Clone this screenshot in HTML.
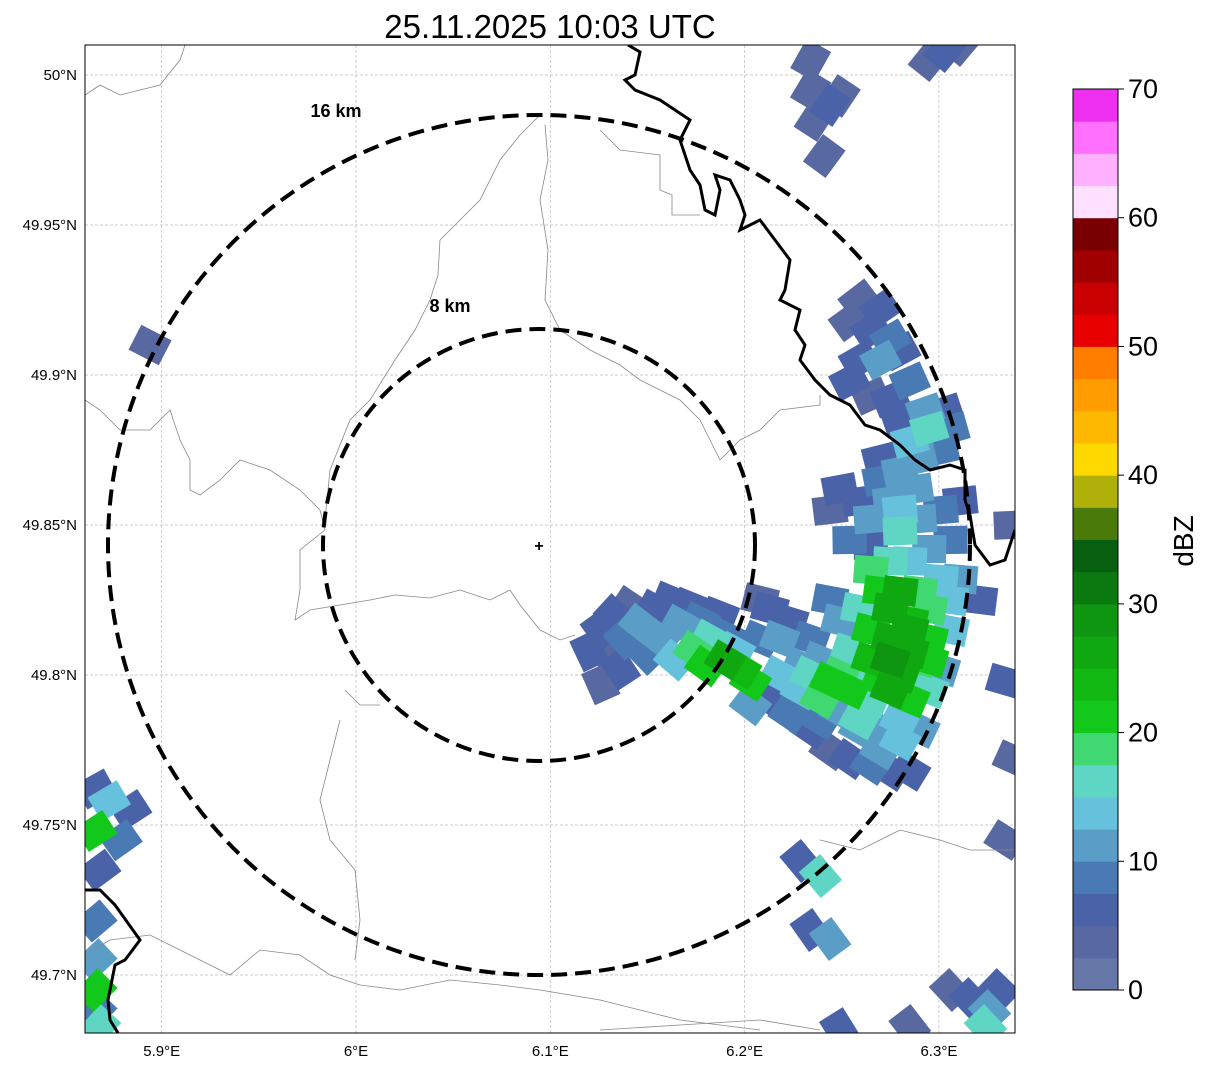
<!DOCTYPE html>
<html><head><meta charset="utf-8"><style>
body{margin:0;background:#fff;width:1207px;height:1069px;overflow:hidden;font-family:"Liberation Sans","DejaVu Sans",sans-serif}
</style></head><body>
<svg id="chart" width="1207" height="1069" xmlns="http://www.w3.org/2000/svg">
<defs><clipPath id="mapclip"><rect x="85" y="45" width="930" height="988"/></clipPath></defs>
<text x="550" y="38" font-size="33" text-anchor="middle" fill="#000">25.11.2025 10:03 UTC</text>
<g id="grid"></g>
<g clip-path="url(#mapclip)">
<g id="cells"></g>
<g fill="none" stroke="#888" stroke-width="0.8">
<path d="M85,95 L100,85 L120,95 L160,85 L180,60 L185,45"/>
<path d="M540,115 L520,135 L500,160 L480,200 L455,225 L440,240 L438,275 L430,300 L415,330 L395,360 L370,400 L350,420 L330,470 L325,520"/>
<path d="M85,400 L100,410 L120,430 L150,430 L170,410 L180,440 L190,460 L190,490 L200,495 L220,480 L240,460 L270,470 L300,490 L320,510 L325,530 L300,550 L300,590 L295,620 L310,610 L340,605 L370,600 L395,595 L430,598 L460,590 L490,600 L510,590 L520,605 L540,630 L560,640 L575,635"/>
<path d="M545,125 L548,160 L540,200 L548,250 L545,300 L560,330 L590,350 L620,365 L640,380 L680,400 L700,420 L720,460 L740,440 L760,430 L780,410 L820,405 L820,395"/>
<path d="M600,130 L620,150 L660,155 L660,190 L672,195 L672,215 L700,215"/>
<path d="M85,955 L110,940 L150,935 L180,950 L200,960 L230,975 L260,950 L300,955 L330,975 L360,985 L400,990 L450,980 L500,985 L540,990 L600,1000 L640,1010 L680,1020 L720,1025 L760,1030"/>
<path d="M340,720 L330,760 L320,800 L330,840 L355,870 L360,920 L355,960"/>
<path d="M345,690 L360,705 L380,705"/>
<path d="M820,840 L860,850 L900,830 L940,840 L970,850 L1015,850"/>
<path d="M600,1030 L680,1025 L760,1020 L820,1030"/>
</g>
<g fill="none" stroke="#000" stroke-width="3">
<path d="M628,45 L640,52 L635,75 L625,80 L635,90 L660,100 L690,120 L680,140 L690,170 L700,185 L705,210 L715,215 L720,190 L715,175 L730,180 L740,200 L745,215 L740,230 L760,220 L775,240 L790,260 L785,290 L780,300 L800,310 L795,330 L805,345 L800,360 L815,380 L830,395 L850,405 L865,425 L880,430 L900,445 L915,460 L930,470 L950,465 L965,470 L965,500 L970,515 L975,545 L990,565 L1005,560 L1015,530"/>
<path d="M85,890 L100,890 L115,905 L140,940 L125,960 L115,965 L108,1000 L110,1020 L118,1033"/>
</g>
<g fill="none" stroke="#000" stroke-width="4" stroke-dasharray="16,8">
<ellipse cx="539" cy="545" rx="216" ry="216"/>
<ellipse cx="539" cy="545" rx="431" ry="430"/>
</g>
<text x="336" y="117" font-size="18" font-weight="bold" text-anchor="middle">16 km</text>
<text x="450" y="312" font-size="18" font-weight="bold" text-anchor="middle">8 km</text>
<text x="539" y="551" font-size="16" font-weight="bold" text-anchor="middle">+</text>
</g>
<rect x="85" y="45" width="930" height="988" fill="none" stroke="#000" stroke-width="1"/>
<g id="ticks"></g>
<g id="cbar"></g>
<text transform="translate(1193,541) rotate(-90)" font-size="28" text-anchor="middle">dBZ</text>
</svg>
<script>
const NS="http://www.w3.org/2000/svg";
const lonTicks=[5.9,6.0,6.1,6.2,6.3];
const lonLabels=["5.9°E","6°E","6.1°E","6.2°E","6.3°E"];
const latTicks=[50.0,49.95,49.9,49.85,49.8,49.75,49.7];
const latLabels=["50°N","49.95°N","49.9°N","49.85°N","49.8°N","49.75°N","49.7°N"];
const cbarTicks=[0,10,20,30,40,50,60,70];
const cbarColors=["#6677a8","#5868a0","#4a62a8","#4a7ab3","#5a9ec8","#66c2dc","#5fd6c4","#40d870","#12c81a","#12b812","#10a810","#0e9610","#0a7a10","#066010","#4a7a0a","#b0b00a","#ffd800","#ffb800","#ff9c00","#ff7e00","#e80000","#c80000","#a00000","#780000","#ffe0ff","#ffb0ff","#ff70ff","#f030f0"];
const cellLon=[6.120,6.126,6.133,6.141,6.131,6.138,6.146,6.154,6.162,6.172,6.126,6.136,6.149,6.156,6.167,6.177,6.187,6.164,6.174,6.182,6.190,6.180,6.190,6.198,6.203,6.195,6.208,6.213,6.218,
6.213,6.223,6.234,6.244,6.254,6.265,6.275,6.285,6.229,6.239,6.249,6.259,6.270,6.280,6.290,6.244,6.254,6.265,6.275,6.285,6.295,6.301,6.254,6.265,6.275,6.285,6.295,6.306,6.265,6.275,6.285,6.295,6.306,6.270,6.280,6.290,6.301,6.311,6.265,6.275,6.285,6.295,6.306,6.321,6.239,6.234,6.223,6.208,6.259,6.249,6.244,
6.254,6.265,6.275,6.259,6.249,6.244,6.270,6.280,6.290,6.301,6.285,6.295,6.306,6.293,6.303,6.280,6.270,6.265,6.280,6.290,6.301,6.311,6.288,6.280,
6.259,6.270,6.265,6.275,6.254,6.270,6.280,6.259,6.254,6.265,6.275,6.285,
6.234,6.244,6.236,6.249,6.241,6.234,6.295,6.303,6.311,
5.894,5.866,5.873,5.884,5.866,5.879,5.868,5.866,5.866,5.866,5.866,5.868,
6.229,6.239,6.234,6.244,6.306,6.316,6.326,6.324,6.331,6.249,6.285,6.334,6.334,6.338,6.337,
6.234,6.249,6.259,6.270,6.280,6.290,6.259,6.270,6.280,6.239,6.229,6.218,6.203,6.275,6.285,6.295];
const cellLat=[49.808,49.815,49.820,49.823,49.805,49.812,49.817,49.822,49.825,49.823,49.797,49.802,49.807,49.812,49.817,49.818,49.820,49.805,49.808,49.812,49.813,49.803,49.805,49.802,49.798,49.808,49.812,49.822,49.812,
49.792,49.787,49.782,49.775,49.772,49.770,49.768,49.768,49.795,49.792,49.788,49.785,49.782,49.778,49.782,49.798,49.795,49.792,49.795,49.792,49.795,49.802,49.808,49.805,49.805,49.808,49.812,49.815,49.815,49.822,49.818,49.822,49.825,49.828,49.828,49.828,49.832,49.832,49.835,49.838,49.838,49.842,49.845,49.825,49.805,49.812,49.818,49.825,49.822,49.818,49.825,
49.845,49.852,49.858,49.858,49.862,49.855,49.865,49.868,49.872,49.875,49.878,49.882,49.882,49.888,49.888,49.885,49.872,49.843,49.848,49.852,49.855,49.858,49.862,49.855,
49.925,49.922,49.915,49.912,49.918,49.905,49.908,49.905,49.898,49.893,49.892,49.898,
49.995,49.990,49.985,49.993,49.973,50.005,50.005,50.008,50.010,
49.910,49.762,49.758,49.755,49.748,49.745,49.735,49.718,49.705,49.695,49.688,49.683,
49.738,49.733,49.715,49.712,49.695,49.692,49.688,49.683,49.695,49.682,49.683,49.798,49.745,49.772,49.850,
49.800,49.800,49.798,49.798,49.800,49.805,49.782,49.775,49.785,49.785,49.803,49.800,49.790,49.812,49.815,49.805];
const cellDbz=[5,7,5,4,3,8,10,6,5,7,3,6,9,12,10,8,5,14,18,15,9,22,25,24,20,14,8,5,10,
6,9,5,4,7,8,5,6,14,18,12,15,10,14,12,20,22,17,25,20,15,10,15,24,28,27,22,14,20,26,24,18,13,22,25,18,14,10,18,15,14,12,8,6,12,8,6,4,16,12,8,
8,12,10,6,5,4,8,12,10,8,14,16,8,10,6,6,6,6,15,10,8,6,12,14,
4,5,6,8,4,10,6,5,6,4,6,8,
4,5,3,3,3,4,4,5,3,
4,6,13,6,20,8,5,8,12,20,8,15,
5,15,6,10,4,6,12,16,5,5,4,5,4,3,4,
16,18,15,22,26,18,10,12,14,9,12,14,10,25,27,20];
// axis functions
function xS(lon){return 356+(lon-6.0)*1943;}
function yS(lat){return 675-(lat-49.8)*3000;}
function cbY(v){return 990-v*(901/70);}
function colorFor(v){let i=Math.floor(v/2.5);if(i<0)i=0;if(i>=cbarColors.length)i=cbarColors.length-1;return cbarColors[i];}
const grid=document.getElementById('grid'),ticks=document.getElementById('ticks');
lonTicks.forEach((t,i)=>{const x=xS(t);
 const l=document.createElementNS(NS,'line');
 
 
 l.setAttribute('x1',x);l.setAttribute('x2',x);l.setAttribute('y1',45);l.setAttribute('y2',1033);
 l.setAttribute('stroke','#bbb');l.setAttribute('stroke-width','0.7');l.setAttribute('stroke-dasharray','3,2');grid.appendChild(l);
 const tx=document.createElementNS(NS,'text');
 
 
 tx.setAttribute('x',x);tx.setAttribute('y',1056);tx.setAttribute('font-size','15');tx.setAttribute('text-anchor','middle');tx.textContent=lonLabels[i];ticks.appendChild(tx);});
latTicks.forEach((t,i)=>{const y=yS(t);
 const l=document.createElementNS(NS,'line');
 
 
 l.setAttribute('x1',85);l.setAttribute('x2',1015);l.setAttribute('y1',y);l.setAttribute('y2',y);
 l.setAttribute('stroke','#bbb');l.setAttribute('stroke-width','0.7');l.setAttribute('stroke-dasharray','3,2');grid.appendChild(l);
 const tx=document.createElementNS(NS,'text');
 
 
 tx.setAttribute('x',77);tx.setAttribute('y',y+5);tx.setAttribute('font-size','15');tx.setAttribute('text-anchor','end');tx.textContent=latLabels[i];ticks.appendChild(tx);});
const cells=document.getElementById('cells');
const cx0=539,cy0=545;
const order=cellDbz.map((v,i)=>i).sort((a,b)=>cellDbz[a]-cellDbz[b]);
order.forEach(i=>{
 const x=xS(cellLon[i]),y=yS(cellLat[i]);
 const ang=Math.atan2(y-cy0,x-cx0)*180/Math.PI;
 const r=document.createElementNS(NS,'rect');
 
 
 r.setAttribute('x',-17);r.setAttribute('y',-14);r.setAttribute('width',34);r.setAttribute('height',28);
 r.setAttribute('fill',colorFor(cellDbz[i]));
 r.setAttribute('transform','translate('+x+','+y+') rotate('+ang+')');
 cells.appendChild(r);});
const cb=document.getElementById('cbar');
cbarColors.forEach((c,i)=>{const v0=i*2.5,v1=v0+2.5;
 const r=document.createElementNS(NS,'rect');
 
 
 r.setAttribute('x',1073);r.setAttribute('width',45);r.setAttribute('y',cbY(v1));r.setAttribute('height',cbY(v0)-cbY(v1)+0.5);
 r.setAttribute('fill',c);cb.appendChild(r);});
const fr=document.createElementNS(NS,'rect');


fr.setAttribute('x',1073);fr.setAttribute('y',cbY(70));fr.setAttribute('width',45);fr.setAttribute('height',cbY(0)-cbY(70));
fr.setAttribute('fill','none');fr.setAttribute('stroke','#000');cb.appendChild(fr);
cbarTicks.forEach(v=>{const y=cbY(v);
 const l=document.createElementNS(NS,'line');
 
 
 l.setAttribute('x1',1118);l.setAttribute('x2',1124);l.setAttribute('y1',y);l.setAttribute('y2',y);l.setAttribute('stroke','#000');cb.appendChild(l);
 const t=document.createElementNS(NS,'text');
 
 
 t.setAttribute('x',1128);t.setAttribute('y',y+9);t.setAttribute('font-size','27');t.textContent=v;cb.appendChild(t);});
</script>
</body></html>
